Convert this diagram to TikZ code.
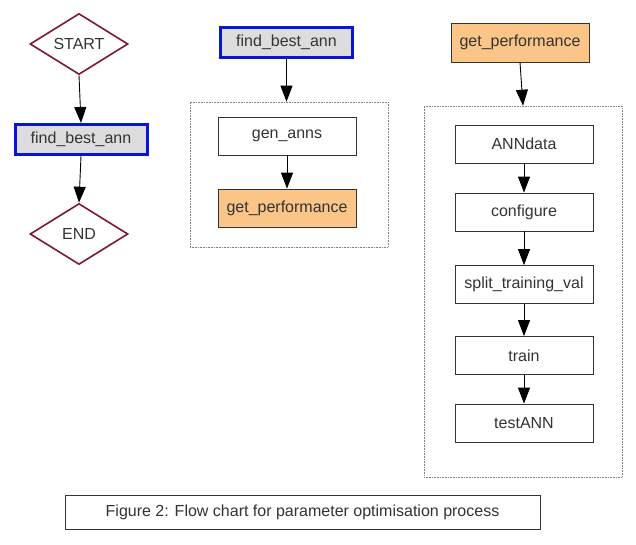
\documentclass[tikz,border=0pt]{standalone}
\usepackage{fontspec}
\setmainfont{Liberation Sans}
\usetikzlibrary{shapes.geometric,arrows.meta}
\definecolor{txt}{HTML}{333333}
\definecolor{maroon}{HTML}{7A1A2E}
\definecolor{bluebd}{HTML}{0A14D8}
\definecolor{grayfill}{HTML}{DDDDDD}
\definecolor{orangefill}{HTML}{FAC587}
\definecolor{boxbd}{HTML}{333333}
\tikzset{
  lbl/.style={font=\fontsize{16}{19}\selectfont, text=txt, inner sep=0pt},
  term/.style={lbl, diamond, draw=maroon, line width=1.6pt, fill=white, minimum width=98pt, minimum height=61pt, aspect=1.6},
  fnbox/.style={lbl, rectangle, draw=bluebd, line width=3pt, fill=grayfill, minimum width=132pt, minimum height=30pt},
  stepbox/.style={lbl, rectangle, draw=boxbd, line width=0.8pt, fill=white, minimum width=138pt, minimum height=38pt},
  perfbox/.style={stepbox, fill=orangefill},
  cluster/.style={rectangle, draw=gray, densely dotted, line width=0.6pt, inner sep=0pt},
  arr/.style={draw=black, line width=0.9pt, -{Triangle[length=16pt,width=12pt]}},
}
\begin{document}
\begin{tikzpicture}[x=1pt,y=-1pt]
\useasboundingbox (0,0) rectangle (636,544);
\fill[white] (0,0) rectangle (636,544);
% left column
\node[term] (start) at (79,44) {START};
\node[fnbox] (fba1) at (81,139.5) {find\_best\_ann};
\node[term] (end) at (79,234) {END};
\draw[arr] (start.south) -- (fba1.north);
\draw[arr] (fba1.south) -- (end.north);
% middle column
\node[cluster, minimum width=198pt, minimum height=145pt] (c1) at (289,174.5) {};
\node[fnbox] (fba2) at (286.5,42) {find\_best\_ann};
\node[stepbox] (gen) at (287,136) {gen\_anns};
\node[perfbox] (gp1) at (287,208) {get\_performance};
\draw[arr] (fba2.south) -- (c1.north -| fba2.south);
\draw[arr] (gen.south) -- (gp1.north);
% right column
\node[cluster, minimum width=198pt, minimum height=371pt] (c2) at (523,291.5) {};
\node[perfbox, minimum height=39pt] (gp2) at (520,42.5) {get\_performance};
\node[stepbox] (ann) at (524,144) {ANNdata};
\node[stepbox] (conf) at (524,212) {configure};
\node[stepbox] (split) at (524,284.5) {split\_training\_val};
\node[stepbox] (train) at (524,355.5) {train};
\node[stepbox] (test) at (524,423) {testANN};
\draw[arr] (gp2.south) -- (c2.north);
\draw[arr] (ann.south) -- (conf.north);
\draw[arr] (conf.south) -- (split.north);
\draw[arr] (split.south) -- (train.north);
\draw[arr] (train.south) -- (test.north);
% caption
\node[lbl, draw=boxbd, line width=0.8pt, minimum width=475pt, minimum height=34pt] (cap) at (302.5,512) {Figure 2: Flow chart for parameter optimisation process};
\end{tikzpicture}
\end{document}
